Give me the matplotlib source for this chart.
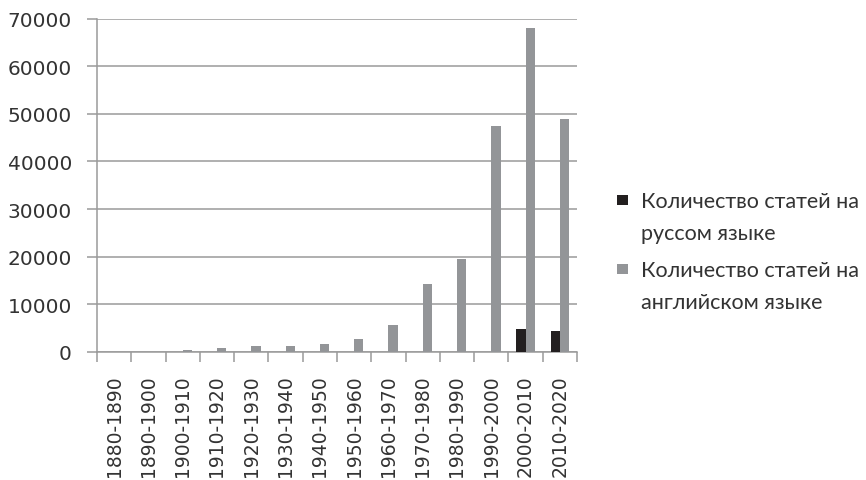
import numpy as np
import matplotlib
matplotlib.use("Agg")
from matplotlib import pyplot as plt
from matplotlib.patches import Rectangle
from matplotlib.legend_handler import HandlerBase

periods = ["1880-1890", "1890-1900", "1900-1910", "1910-1920", "1920-1930",
           "1930-1940", "1940-1950", "1950-1960", "1960-1970", "1970-1980",
           "1980-1990", "1990-2000", "2000-2010", "2010-2020"]
russian = [0, 0, 0, 0, 0, 0, 0, 0, 0, 0, 0, 0, 4800, 4500]
english = [0, 0, 500, 850, 1250, 1250, 1600, 2700, 5700, 14300,
           19500, 47500, 68000, 49000]
label_ru = "Количество статей на\nруссом языке"
label_en = "Количество статей на\nанглийском языке"

BLACK = "#231f20"
GREY = "#939598"
AXIS = "#9a9a9a"
TEXT = "#333333"


class TopSquare(HandlerBase):
    # square marker aligned with the first line of a two-line label
    def create_artists(self, legend, orig_handle, xdescent, ydescent,
                       width, height, fontsize, trans):
        s = 10.5 * 72 / 100
        r = Rectangle((-xdescent, -ydescent + fontsize * 0.92), s, s,
                      facecolor=orig_handle.get_facecolor(),
                      edgecolor="none", transform=trans)
        return [r]


fig = plt.figure(figsize=(8.66, 4.81), dpi=100)
ax = fig.add_axes([97 / 866, 1 - 353 / 481, 480 / 866, (353 - 19.5) / 481])

x = np.arange(len(periods))
w = 0.27
b1 = ax.bar(x - w / 2, russian, w, color=BLACK, zorder=3)
b2 = ax.bar(x + w / 2, english, w, color=GREY, zorder=3)

ax.set_xlim(-0.5, len(periods) - 0.5)
ax.set_ylim(0, 70000)
ax.set_yticks(range(0, 70001, 10000))
ax.yaxis.grid(True, color=AXIS, linewidth=1.1, zorder=0)
ax.set_axisbelow(True)

ax.set_xticks(x)
ax.set_xticklabels(periods, rotation=90, fontsize=13.5, color=TEXT,
                   family="DejaVu Sans")
ax.set_xticks(np.arange(-0.5, len(periods), 1), minor=True)
ax.tick_params(axis="x", which="major", length=0, pad=16)
ax.tick_params(axis="x", which="minor", length=7, width=1.1, color=AXIS,
               direction="out")
ax.tick_params(axis="y", length=7, width=1.1, color=AXIS, pad=11,
               labelsize=14.5, labelcolor=TEXT)

for side in ["top", "right"]:
    ax.spines[side].set_visible(False)
for side in ["left", "bottom"]:
    ax.spines[side].set_color(AXIS)
    ax.spines[side].set_linewidth(1.1)

h1 = Rectangle((0, 0), 1, 1, facecolor=BLACK)
h2 = Rectangle((0, 0), 1, 1, facecolor=GREY)
leg = fig.legend([h1, h2], [label_ru, label_en], loc="upper left",
                 bbox_to_anchor=(617 / 866, 1 - 192 / 481), frameon=False,
                 handler_map={Rectangle: TopSquare()},
                 prop={"family": "Lato", "size": 15.5}, labelcolor=TEXT,
                 handlelength=0.7, handletextpad=0.4, labelspacing=0.8,
                 borderaxespad=0, borderpad=0)
for t in leg.get_texts():
    t.set_linespacing(1.75)

fig.savefig("out.png", dpi=100)
